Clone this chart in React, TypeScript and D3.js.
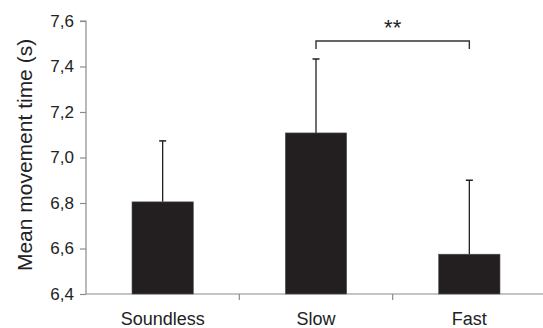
import React, { useEffect, useRef } from 'react';
import * as d3 from 'd3';

const categories = ['Soundless', 'Slow', 'Fast'];
const means = [6.805, 7.108, 6.575];
const errorTops = [7.073, 7.433, 6.9];
const yTicks = [6.4, 6.6, 6.8, 7.0, 7.2, 7.4, 7.6];
const significance = { from: 'Slow', to: 'Fast', label: '**' };

const W = 543;
const H = 328;
const FONT = 'Liberation Sans, Arial, Helvetica, sans-serif';

export default function App() {
  const ref = useRef<SVGSVGElement>(null);

  useEffect(() => {
    const svg = d3.select(ref.current);
    svg.selectAll('*').remove();

    const left = 86, top = 21, bottom = 294;
    const y = d3.scaleLinear().domain([6.4, 7.6]).range([bottom, top]);
    const x = d3.scaleBand().domain(categories).range([left, left + 460]).padding(0);
    const barW = x.bandwidth() * 0.4;
    const axisColor = '#8c8c8c';
    const ink = '#231f20';
    const fmt = (v: number) => d3.format('.1f')(v).replace('.', ',');

    // y axis
    const ya = svg.append('g')
      .attr('transform', `translate(${left},0)`)
      .call(d3.axisLeft(y).tickValues(yTicks).tickSize(6).tickPadding(6).tickFormat(d => fmt(+d)));
    ya.select('.domain').attr('stroke', axisColor).attr('stroke-width', 1.2).attr('d', `M-6,${top}H0V${bottom}`);
    ya.selectAll('.tick line').attr('stroke', axisColor).attr('stroke-width', 1.2);
    ya.selectAll('.tick text').attr('fill', '#222').style('font-family', FONT).style('font-size', '17px');

    // x axis line and dividers
    svg.append('line')
      .attr('x1', left).attr('x2', W).attr('y1', bottom).attr('y2', bottom)
      .attr('stroke', axisColor).attr('stroke-width', 1.2);
    categories.slice(1).forEach(c => {
      const bx = x(c)!;
      svg.append('line')
        .attr('x1', bx).attr('x2', bx).attr('y1', bottom).attr('y2', bottom + 6)
        .attr('stroke', axisColor).attr('stroke-width', 1.2);
    });

    categories.forEach((c, i) => {
      const cx = x(c)! + x.bandwidth() / 2;
      // error bar
      svg.append('line')
        .attr('x1', cx).attr('x2', cx).attr('y1', y(means[i])).attr('y2', y(errorTops[i]))
        .attr('stroke', ink).attr('stroke-width', 1.3);
      svg.append('line')
        .attr('x1', cx - 3.5).attr('x2', cx + 3.5).attr('y1', y(errorTops[i])).attr('y2', y(errorTops[i]))
        .attr('stroke', ink).attr('stroke-width', 1.5);
      // bar
      svg.append('rect')
        .attr('x', cx - barW / 2).attr('width', barW)
        .attr('y', y(means[i])).attr('height', bottom - y(means[i]))
        .attr('fill', ink).attr('stroke', '#555').attr('stroke-width', 0.6);
      // label
      svg.append('text')
        .attr('x', cx).attr('y', bottom + 31)
        .attr('text-anchor', 'middle')
        .style('font-family', FONT).style('font-size', '18px').attr('fill', '#222')
        .text(c);
    });

    // significance bracket
    const x1 = x(significance.from)! + x.bandwidth() / 2;
    const x2 = x(significance.to)! + x.bandwidth() / 2;
    const by = 41;
    svg.append('path')
      .attr('d', `M${x1},${by + 8}V${by}H${x2}V${by + 8}`)
      .attr('fill', 'none').attr('stroke', '#333').attr('stroke-width', 1.4);
    svg.append('text')
      .attr('x', (x1 + x2) / 2).attr('y', 35)
      .attr('text-anchor', 'middle')
      .style('font-family', FONT).style('font-size', '22px').attr('fill', '#222')
      .text(significance.label);

    // y title
    svg.append('text')
      .attr('transform', `translate(32,155) rotate(-90)`)
      .attr('text-anchor', 'middle')
      .style('font-family', FONT).style('font-size', '21px').attr('fill', '#222')
      .text('Mean movement time (s)');
  }, []);

  return (
    <div style={{ position: 'fixed', left: 0, top: 0 }}>
      <svg ref={ref} width={W} height={H} style={{ display: 'block', background: '#fff' }} />
    </div>
  );
}
